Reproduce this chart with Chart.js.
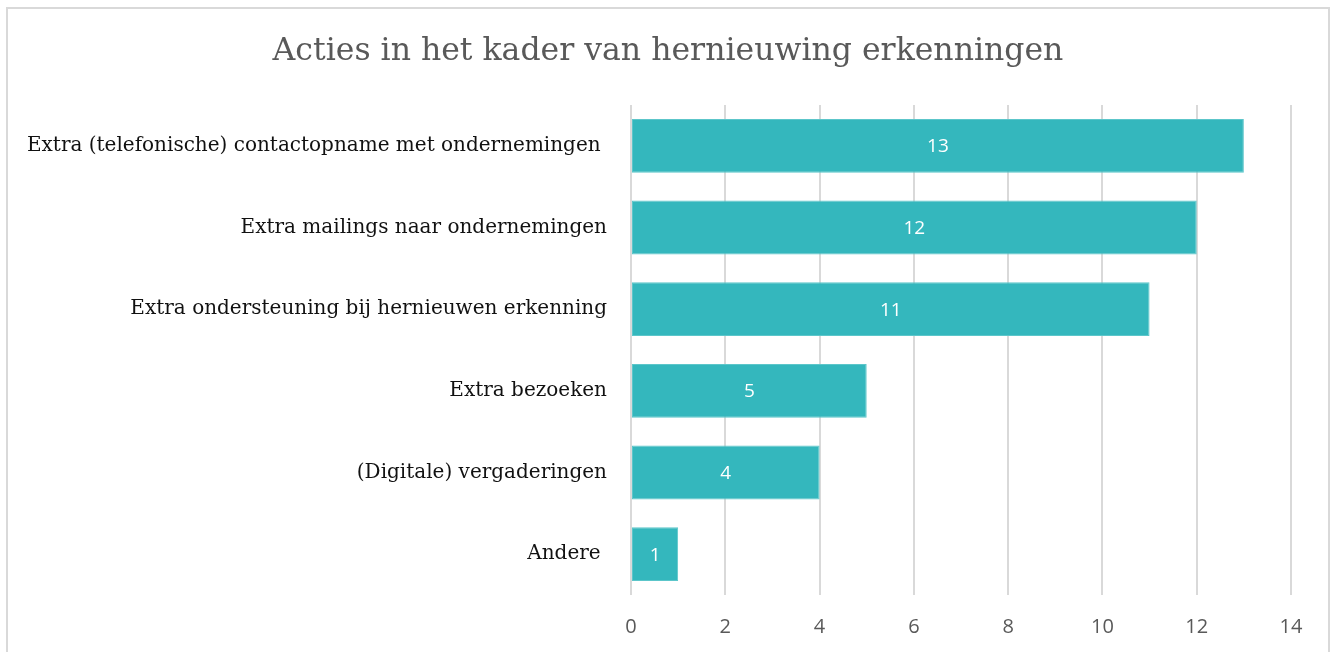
<!DOCTYPE html>
<html>
<head>
<meta charset="utf-8">
<script src="https://cdn.jsdelivr.net/npm/chart.js@4"></script>
<style>
  html, body { margin: 0; padding: 0; background: #fff; }
  #wrap { position: relative; width: 1335px; height: 652px; }
</style>
</head>
<body>
<div id="wrap"><canvas id="myChart"></canvas></div>
<script>
// data
var categories = [
    "Extra (telefonische) contactopname met ondernemingen ",
    "Extra mailings naar ondernemingen",
    "Extra ondersteuning bij hernieuwen erkenning",
    "Extra bezoeken",
    "(Digitale) vergaderingen",
    "Andere "
];
var values = [13, 12, 11, 5, 4, 1];
var xMin = 0, xMax = 14, xStep = 2;
var titleText = 'Acties in het kader van hernieuwing erkenningen';

// light grey frame + title centred on the frame
var frame = {
    id: 'frame',
    beforeDraw: function(chart) {
        var c = chart.ctx;
        c.save();
        c.strokeStyle = '#D9D9D9';
        c.lineWidth = 2;
        c.strokeRect(7, 8, 1322, 700);
        c.fillStyle = '#595959';
        c.font = '31.5px "DejaVu Serif"';
        c.textAlign = 'center';
        c.textBaseline = 'middle';
        c.fillText(titleText, 668, 52);
        c.restore();
    }
};

// white value labels in the middle of each bar
var barLabels = {
    id: 'barLabels',
    afterDatasetsDraw: function(chart) {
        var c = chart.ctx;
        var meta = chart.getDatasetMeta(0);
        c.save();
        c.fillStyle = '#ffffff';
        c.font = '19px "Open Sans"';
        c.textAlign = 'center';
        c.textBaseline = 'middle';
        meta.data.forEach(function(bar, i) {
            c.fillText(String(values[i]), (bar.x + bar.base) / 2, bar.y + 1);
        });
        c.restore();
    }
};

var ctx = document.getElementById("myChart").getContext('2d');
var myChart = new Chart(ctx, {
    type: 'bar',
    data: {
        labels: categories,
        datasets: [{
            label: 'Acties',
            data: values,
            backgroundColor: '#34B7BD',
            borderColor: '#5CC6CA',
            borderWidth: 1,
            borderSkipped: false,
            categoryPercentage: 1,
            barPercentage: 0.66
        }]
    },
    options: {
        indexAxis: 'y',
        responsive: true, maintainAspectRatio: false,
        animation: false,
        layout: { padding: { left: 0, right: 44, top: 105, bottom: 0 } },
        plugins: {
            legend: { display: false },
            tooltip: { enabled: false },
            title: { display: false }
        },
        scales: {
            x: {
                min: xMin, max: xMax,
                ticks: {
                    stepSize: xStep,
                    color: '#595959',
                    font: { family: '"Open Sans"', size: 20 },
                    padding: 20
                },
                grid: { color: '#D9D9D9', lineWidth: 2, drawTicks: false },
                border: { display: false },
                afterFit: function(scale) { scale.height = 57; }
            },
            y: {
                ticks: {
                    color: '#111111',
                    font: { family: '"DejaVu Serif"', size: 20 },
                    padding: 24
                },
                grid: { display: false, drawTicks: false },
                border: { display: false },
                afterFit: function(scale) { scale.width = 631; }
            }
        }
    },
    plugins: [frame, barLabels]
});
</script>
</body>
</html>
